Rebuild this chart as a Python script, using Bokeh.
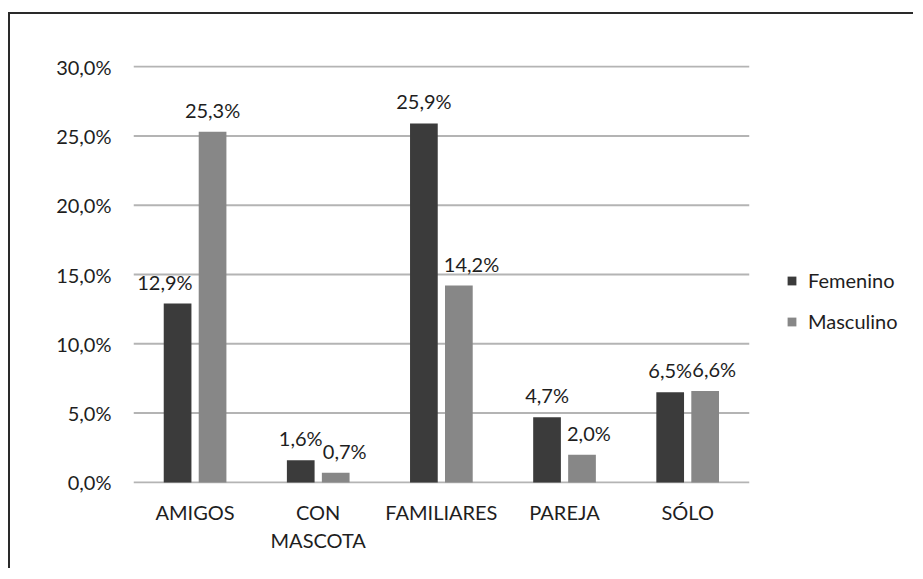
from bokeh.plotting import figure
from bokeh.models import ColumnDataSource, Range1d, FixedTicker, Legend, LegendItem
from bokeh.core.properties import value
from bokeh.embed import file_html
from bokeh.resources import INLINE

categories = ["AMIGOS", "CON\nMASCOTA", "FAMILIARES", "PAREJA", "SÓLO"]
femenino = [12.9, 1.6, 25.9, 4.7, 6.5]
masculino = [25.3, 0.7, 14.2, 2.0, 6.6]
fem_labels = ["12,9%", "1,6%", "25,9%", "4,7%", "6,5%"]
mas_labels = ["25,3%", "0,7%", "14,2%", "2,0%", "6,6%"]
y_ticks = [0, 5, 10, 15, 20, 25, 30]
y_tick_labels = ["0,0%", "5,0%", "10,0%", "15,0%", "20,0%", "25,0%", "30,0%"]

FONT = "Lato"
FS_PX = 20
FS = f"{FS_PX}px"
TXT = "#1e1e1e"
C_FEM = "#3b3b3b"
C_MAS = "#878787"
GRID = "#b4b4b4"

n = len(categories)
xc = [i + 0.5 for i in range(n)]
bw = 0.225
off = 0.142
LABEL_DY = 22     # label baseline above the bar top, px
GAP = 6           # clearance between a shifted label and the neighbouring bar, px

W = 6.35          # visible span in category units (plot area + legend zone)
WIDTH, HEIGHT = 905, 556
B_LEFT, B_TOP, B_RIGHT, B_BOTTOM = 123, 51, 0, 87
YMIN, YMAX = -0.08, 30.08
px_x = (WIDTH - B_LEFT - B_RIGHT) / W
px_y = (HEIGHT - B_TOP - B_BOTTOM) / (YMAX - YMIN)


def text_w(s):
    # rough advance widths (em) for the label font
    em = {",": 0.24, "%": 0.8}
    return sum(em.get(ch, 0.58) for ch in s) * FS_PX


# move data labels sideways where they would hit the neighbouring bar or label
fem_dx, mas_dx = [], []
bw_px, sep_px = bw * px_x, 2 * off * px_x
for fl, ml, fv, mv in zip(fem_labels, mas_labels, femenino, masculino):
    dv = (fv - mv) * px_y
    fd = md = 0.0
    if abs(dv) > LABEL_DY - 8:
        lo_w = text_w(ml) if dv > 0 else text_w(fl)
        shift = max(0.0, lo_w / 2 + GAP + bw_px / 2 - sep_px)
        if dv > 0:
            md = shift
        else:
            fd = -shift
    else:
        need = (text_w(fl) + text_w(ml)) / 2
        md = max(0.0, need - sep_px)
    fem_dx.append(fd)
    mas_dx.append(md)

src = ColumnDataSource(dict(
    xf=[x - off for x in xc], xm=[x + off for x in xc],
    fem=femenino, mas=masculino, fl=fem_labels, ml=mas_labels,
    fdx=fem_dx, mdx=mas_dx))
grid_src = ColumnDataSource(dict(x0=[0] * len(y_ticks), x1=[n] * len(y_ticks), y=y_ticks))

p = figure(x_range=Range1d(0, W), y_range=Range1d(YMIN, YMAX),
           width=WIDTH, height=HEIGHT, output_backend="svg", toolbar_location=None,
           min_border_left=B_LEFT, min_border_top=B_TOP, min_border_right=B_RIGHT,
           min_border_bottom=B_BOTTOM,
           styles={"border-top": "2px solid #2a2a2a", "border-left": "2px solid #2a2a2a",
                   "margin-top": "12px", "margin-left": "8px"})
p.outline_line_color = None
p.xgrid.grid_line_color = None
p.ygrid.grid_line_color = None

p.segment(x0="x0", x1="x1", y0="y", y1="y", source=grid_src,
          line_color=GRID, line_width=2, level="underlay")

r_fem = p.vbar(x="xf", top="fem", width=bw, source=src, fill_color=C_FEM, line_color=None)
r_mas = p.vbar(x="xm", top="mas", width=bw, source=src, fill_color=C_MAS, line_color=None)

for xcol, ycol, tcol, dcol in (("xf", "fem", "fl", "fdx"), ("xm", "mas", "ml", "mdx")):
    p.text(x=xcol, y=ycol, text=tcol, source=src, x_offset=dcol,
           text_align="center", text_baseline="alphabetic", y_offset=-LABEL_DY,
           text_font=value(FONT), text_font_size=FS, text_color=TXT)

p.yaxis.ticker = FixedTicker(ticks=y_ticks)
p.yaxis.major_label_overrides = {t: l for t, l in zip(y_ticks, y_tick_labels)}
p.yaxis.axis_line_color = None
p.yaxis.major_tick_line_color = None
p.yaxis.minor_tick_line_color = None
p.yaxis.major_label_standoff = 16
p.yaxis.major_label_text_font = FONT
p.yaxis.major_label_text_font_size = FS
p.yaxis.major_label_text_color = TXT

p.xaxis.ticker = FixedTicker(ticks=xc)
p.xaxis.major_label_overrides = {x: c for x, c in zip(xc, categories)}
p.xaxis.axis_line_color = None
p.xaxis.major_tick_line_color = None
p.xaxis.minor_tick_line_color = None
p.xaxis.major_label_standoff = 10
p.xaxis.major_label_text_font = FONT
p.xaxis.major_label_text_font_size = FS
p.xaxis.major_label_text_color = TXT

legend = Legend(items=[LegendItem(label="Femenino", renderers=[r_fem]),
                       LegendItem(label="Masculino", renderers=[r_mas])],
                location=(653, 150), orientation="vertical",
                glyph_width=11, glyph_height=11, label_standoff=11, spacing=17,
                padding=0, margin=0, border_line_color=None, background_fill_alpha=0,
                label_text_font=FONT, label_text_font_size=FS, label_text_color=TXT)
p.add_layout(legend)

open("out.html", "w").write(file_html(p, INLINE))
